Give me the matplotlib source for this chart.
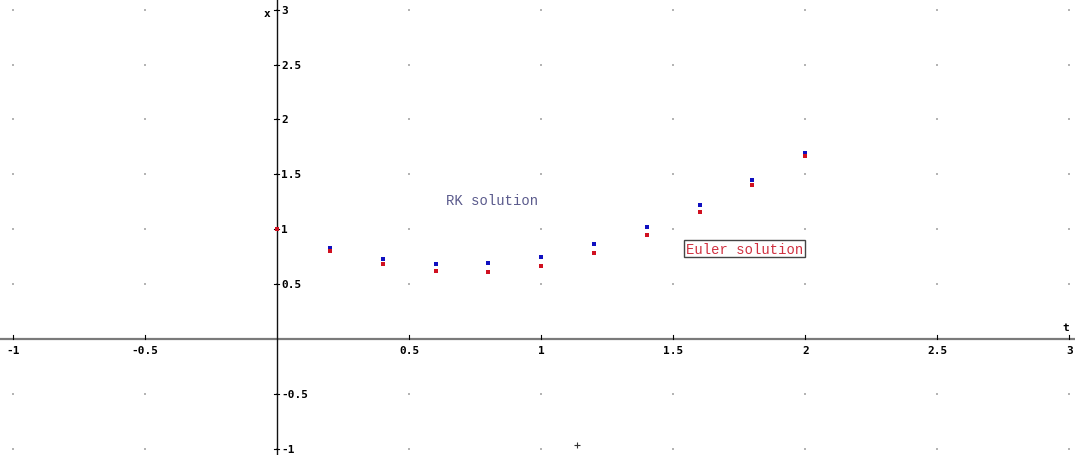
import matplotlib
matplotlib.use("Agg")
import matplotlib.pyplot as plt
import numpy as np

# data
t_vals = [0.0, 0.2, 0.4, 0.6, 0.8, 1.0, 1.2, 1.4, 1.6, 1.8, 2.0]
rk_vals = [1.0, 0.829, 0.731, 0.680, 0.689, 0.747, 0.862, 1.023, 1.220, 1.451, 1.691]
euler_vals = [1.0, 0.801, 0.680, 0.617, 0.610, 0.662, 0.780, 0.947, 1.159, 1.403, 1.669]
x_ticks = [-1, -0.5, 0.5, 1, 1.5, 2, 2.5, 3]
x_tick_labels = ["-1", "-0.5", "0.5", "1", "1.5", "2", "2.5", "3"]
y_ticks = [-1, -0.5, 0.5, 1, 1.5, 2, 2.5, 3]
y_tick_labels = ["-1", "-0.5", "0.5", "1", "1.5", "2", "2.5", "3"]
grid_x = [-1, -0.5, 0, 0.5, 1, 1.5, 2, 2.5, 3]
grid_y = [-1, -0.5, 0, 0.5, 1, 1.5, 2, 2.5, 3]
cursor_pt = (1.136, -0.965)

fig = plt.figure(figsize=(10.75, 4.56), dpi=100)
ax = fig.add_axes([0, 0, 1, 1])
ax.set_xlim(-1.050, 3.0216)
ax.set_ylim(-1.056, 3.097)
ax.axis("off")

# dotted grid (points at intersections)
gx, gy = np.meshgrid(grid_x, grid_y)
ax.scatter(gx.ravel(), gy.ravel(), s=1.0, c="#b4b4b4", marker="s", linewidths=0, zorder=1)

# axes
ax.axhline(0, color="#7a7a7a", lw=1.6, zorder=2)
ax.axvline(0, color="#111111", lw=1.0, zorder=2)

tick_font = dict(family="DejaVu Sans Mono", fontsize=8, fontweight="bold", color="black")
for xv, lab in zip(x_ticks, x_tick_labels):
    ax.plot([xv, xv], [0, 0.035], color="black", lw=0.8, zorder=3)
    ax.text(xv, -0.05, lab, ha="center", va="top", **tick_font)
for yv, lab in zip(y_ticks, y_tick_labels):
    ax.plot([-0.012, 0.008], [yv, yv], color="black", lw=0.8, zorder=3)
    ax.text(0.016, yv, lab, ha="left", va="center", **tick_font)

ax.text(3.0, 0.06, "t", ha="right", va="bottom", **tick_font)
ax.text(-0.025, 2.97, "x", ha="right", va="center", **tick_font)

# points
ax.plot(t_vals, rk_vals, linestyle="none", marker="s", markersize=2.2,
        color="#1010c0", markeredgewidth=0, zorder=4)
ax.plot(t_vals, euler_vals, linestyle="none", marker="s", markersize=2.2,
        color="#d01020", markeredgewidth=0, zorder=5)

# labels
ax.text(0.64, 1.27, "RK solution", family="Liberation Mono", fontsize=10,
        color="#5a5a8c", ha="left", va="center")
ax.text(1.548, 0.823, "Euler solution", family="Liberation Mono", fontsize=10,
        color="#d03040", ha="left", va="center",
        bbox=dict(boxstyle="square,pad=0.12", facecolor="white",
                  edgecolor="#444444", linewidth=1.0))

# cursor cross
ax.plot([cursor_pt[0]], [cursor_pt[1]], marker="+", markersize=5,
        color="#333333", markeredgewidth=0.8, linestyle="none")

fig.savefig("out.png", dpi=100)
